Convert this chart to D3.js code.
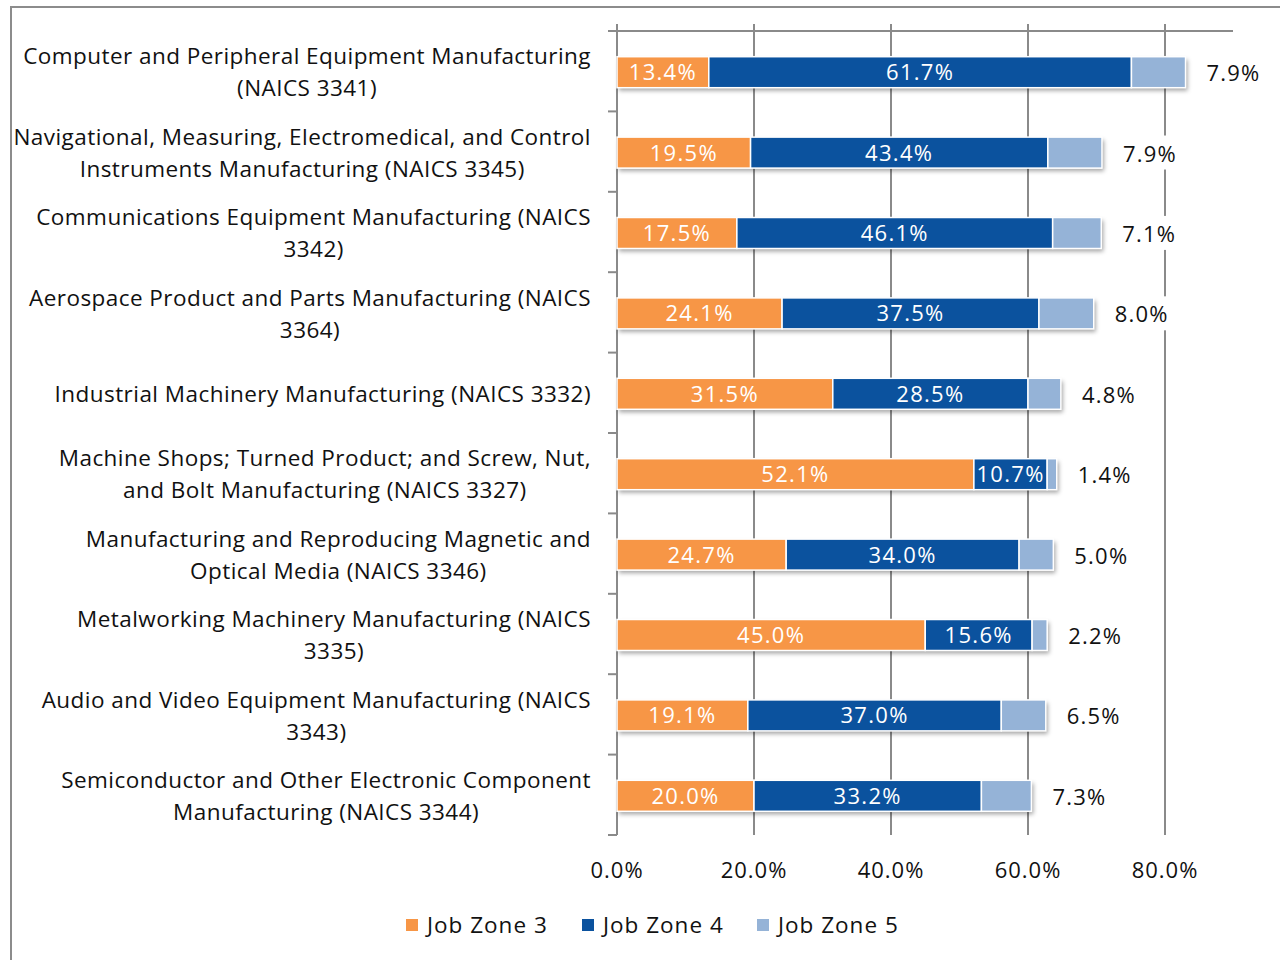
<!DOCTYPE html>
<html>
<head>
<meta charset="utf-8">
<script src="https://cdn.jsdelivr.net/npm/d3@7"></script>
<style>
  html, body { margin: 0; padding: 0; background: #fff; }
  svg { display: block; }
  text { font-family: "Open Sans", "DejaVu Sans", sans-serif; }
</style>
</head>
<body>
<svg id="chart" width="1280" height="960"></svg>
<script>
const categories = [
  ["Computer and Peripheral Equipment Manufacturing", "(NAICS 3341)"],
  ["Navigational, Measuring, Electromedical, and Control", "Instruments Manufacturing (NAICS 3345)"],
  ["Communications Equipment Manufacturing (NAICS", "3342)"],
  ["Aerospace Product and Parts Manufacturing (NAICS", "3364)"],
  ["Industrial Machinery Manufacturing (NAICS 3332)"],
  ["Machine Shops; Turned Product; and Screw, Nut,", "and Bolt Manufacturing (NAICS 3327)"],
  ["Manufacturing and Reproducing Magnetic and", "Optical Media (NAICS 3346)"],
  ["Metalworking Machinery Manufacturing (NAICS", "3335)"],
  ["Audio and Video Equipment Manufacturing (NAICS", "3343)"],
  ["Semiconductor and Other Electronic Component", "Manufacturing (NAICS 3344)"]
];
const jobZone3 = [13.4, 19.5, 17.5, 24.1, 31.5, 52.1, 24.7, 45.0, 19.1, 20.0];
const jobZone4 = [61.7, 43.4, 46.1, 37.5, 28.5, 10.7, 34.0, 15.6, 37.0, 33.2];
const jobZone5 = [7.9, 7.9, 7.1, 8.0, 4.8, 1.4, 5.0, 2.2, 6.5, 7.3];
const seriesNames = ["Job Zone 3", "Job Zone 4", "Job Zone 5"];
const xTicks = [0, 20, 40, 60, 80];

const colors = ["#F79646", "#0B529E", "#95B3D7"];
const svg = d3.select("#chart");

// outer frame
svg.append("rect").attr("x", 11).attr("y", 7).attr("width", 1300).attr("height", 1000)
  .attr("fill", "none").attr("stroke", "#8c8c8c").attr("stroke-width", 2);

const pLeft = 617, pRight = 1165, pTop = 31, pBottom = 835;
const x = d3.scaleLinear().domain([0, 80]).range([pLeft, pRight]);
const idx = d3.range(categories.length);
const y = d3.scaleBand().domain(idx).range([pTop, pBottom]);
const step = y.step();

// defs: shadow
const defs = svg.append("defs");
const f = defs.append("filter").attr("id", "sh").attr("x", "-5%").attr("y", "-30%").attr("width", "110%").attr("height", "180%");
f.append("feDropShadow").attr("dx", 2).attr("dy", 3).attr("stdDeviation", 2).attr("flood-color", "#000").attr("flood-opacity", 0.35);

// gridlines
svg.append("g").selectAll("line").data(xTicks).join("line")
  .attr("x1", d => x(d)).attr("x2", d => x(d))
  .attr("y1", 24).attr("y2", pBottom)
  .attr("stroke", "#8a8a8a").attr("stroke-width", 2);

// top line
svg.append("line").attr("x1", 608).attr("x2", 1233).attr("y1", pTop).attr("y2", pTop)
  .attr("stroke", "#8a8a8a").attr("stroke-width", 2);

// left axis ticks
svg.append("g").selectAll("line").data(d3.range(categories.length + 1)).join("line")
  .attr("x1", 608).attr("x2", pLeft)
  .attr("y1", d => pTop + d * step).attr("y2", d => pTop + d * step)
  .attr("stroke", "#8a8a8a").attr("stroke-width", 2);

// stacked data
const rows = idx.map(i => ({ i, v: [jobZone3[i], jobZone4[i], jobZone5[i]] }));
const bh = 31;
const yc = i => y(i) + step / 2 + 1;

const barG = svg.append("g");
rows.forEach(r => {
  const total = r.v[0] + r.v[1] + r.v[2];
  barG.append("rect").attr("x", x(0)).attr("y", yc(r.i) - bh / 2)
    .attr("width", x(total) - x(0)).attr("height", bh)
    .attr("fill", "#fff").attr("filter", "url(#sh)");
  let acc = 0;
  r.v.forEach((v, s) => {
    barG.append("rect")
      .attr("x", x(acc)).attr("y", yc(r.i) - bh / 2)
      .attr("width", x(acc + v) - x(acc)).attr("height", bh)
      .attr("fill", colors[s]).attr("stroke", "#fff").attr("stroke-width", 1.5);
    if (s < 2) {
      barG.append("text").attr("x", (x(acc) + x(acc + v)) / 2).attr("y", yc(r.i))
        .attr("dy", "0.36em").attr("text-anchor", "middle")
        .attr("fill", "#fff").attr("font-size", 22).attr("letter-spacing", 1.3)
        .text(v.toFixed(1) + "%");
    }
    acc += v;
  });
  const t = barG.append("text").attr("x", x(total) + 21).attr("y", yc(r.i) + 1)
    .attr("dy", "0.36em").attr("fill", "#111").attr("font-size", 22).attr("letter-spacing", 1.2)
    .text(r.v[2].toFixed(1) + "%");
  const bb = t.node().getBBox();
  barG.insert("rect", () => t.node()).attr("x", bb.x - 4).attr("y", bb.y - 2)
    .attr("width", bb.width + 8).attr("height", bb.height + 4).attr("fill", "#fff");
});

// category labels
const labG = svg.append("g");
categories.forEach((lines, i) => {
  const g = labG.append("g");
  const ts = lines.map((ln, k) => g.append("text")
    .attr("y", yc(i) + (k - (lines.length - 1) / 2) * 32)
    .attr("dy", "0.36em").attr("font-size", 22.5).attr("letter-spacing", 0.45).attr("fill", "#111")
    .attr("text-anchor", "middle").text(ln));
  const w = d3.max(ts, t => t.node().getComputedTextLength());
  ts.forEach(t => t.attr("x", 591 - w / 2));
});

// x tick labels
svg.append("g").selectAll("text").data(xTicks).join("text")
  .attr("x", d => x(d)).attr("y", 870).attr("dy", "0.36em")
  .attr("text-anchor", "middle").attr("font-size", 22).attr("letter-spacing", 1).attr("fill", "#111")
  .text(d => d.toFixed(1) + "%");

// legend
const legendX = [406, 582, 757];
const lg = svg.append("g");
seriesNames.forEach((n, s) => {
  lg.append("rect").attr("x", legendX[s]).attr("y", 919).attr("width", 12).attr("height", 12).attr("fill", colors[s]);
  lg.append("text").attr("x", legendX[s] + 21).attr("y", 925).attr("dy", "0.36em")
    .attr("font-size", 22.5).attr("letter-spacing", 1).attr("fill", "#111").text(n);
});
</script>
</body>
</html>
